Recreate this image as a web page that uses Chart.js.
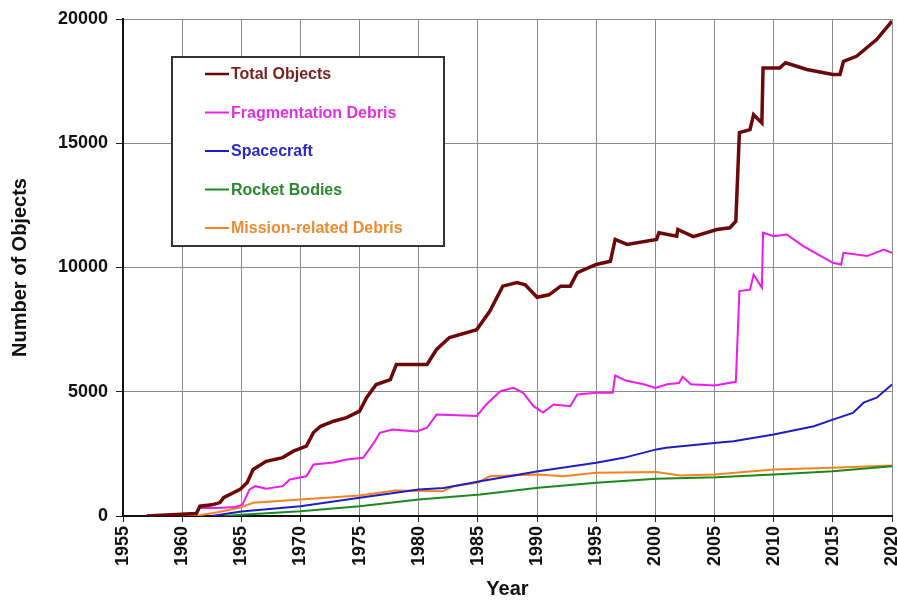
<!DOCTYPE html>
<html>
<head>
<meta charset="utf-8">
<script src="https://cdn.jsdelivr.net/npm/chart.js@4.4.1/dist/chart.umd.min.js"></script>
<style>
  html, body { margin: 0; padding: 0; background: #fff; }
</style>
</head>
<body>
<canvas id="debrisChart" width="897" height="603"></canvas>
<script>
// Series (year, number of objects)
const totalYears = [1957, 1961.2, 1961.5, 1962.5, 1963.2, 1963.5, 1964.9, 1965.5, 1966.0, 1967.1, 1968.5, 1969.4, 1970.5, 1971.1, 1971.7, 1972.8, 1973.9, 1975.0, 1975.6, 1976.4, 1977.6, 1978.1, 1980.7, 1981.5, 1982.6, 1984.9, 1986.0, 1987.1, 1988.3, 1989.0, 1990.0, 1991.0, 1992.0, 1992.8, 1993.4, 1995.0, 1996.2, 1996.6, 1997.6, 2000.1, 2000.3, 2001.8, 2001.9, 2003.2, 2005.2, 2006.3, 2006.8, 2007.1, 2008.0, 2008.3, 2009.0, 2009.1, 2010.5, 2011.0, 2012.8, 2015.0, 2015.6, 2015.9, 2017.0, 2018.7, 2020.0];
const totalCounts = [0, 100, 395, 450, 540, 740, 1070, 1350, 1870, 2200, 2350, 2610, 2810, 3360, 3610, 3815, 3960, 4220, 4770, 5290, 5490, 6100, 6100, 6700, 7180, 7500, 8240, 9250, 9390, 9300, 8800, 8900, 9250, 9250, 9790, 10120, 10250, 11130, 10930, 11130, 11400, 11260, 11530, 11240, 11530, 11600, 11860, 15430, 15550, 16150, 15820, 18030, 18030, 18240, 17970, 17770, 17770, 18300, 18500, 19170, 19910];

const fragYears = [1961.3, 1961.5, 1963.0, 1964.5, 1965.1, 1965.7, 1966.2, 1967.1, 1968.5, 1969.1, 1970.5, 1971.1, 1972.8, 1973.9, 1975.3, 1976.2, 1976.7, 1977.8, 1979.8, 1980.7, 1981.5, 1984.9, 1985.7, 1986.9, 1988.0, 1988.8, 1989.7, 1990.5, 1991.4, 1992.8, 1993.4, 1995.0, 1996.4, 1996.6, 1997.5, 1999.0, 2000.0, 2001.0, 2002.0, 2002.3, 2003.0, 2005.0, 2006.8, 2007.1, 2008.0, 2008.3, 2009.0, 2009.1, 2010.0, 2011.1, 2012.5, 2015.0, 2015.7, 2015.9, 2017.9, 2019.3, 2020.0];
const fragCounts = [250, 330, 320, 360, 460, 1070, 1200, 1100, 1200, 1470, 1600, 2070, 2150, 2270, 2340, 2940, 3350, 3480, 3400, 3550, 4080, 4020, 4490, 5020, 5160, 4970, 4420, 4160, 4490, 4420, 4890, 4960, 4960, 5650, 5450, 5300, 5150, 5300, 5350, 5600, 5300, 5250, 5400, 9050, 9110, 9720, 9190, 11400, 11260, 11330, 10860, 10190, 10120, 10590, 10460, 10720, 10590];

const craftYears = [1962.5, 1965, 1970, 1975, 1980, 1982.1, 1985.2, 1990.1, 1995, 1997.3, 2000.1, 2000.9, 2005.2, 2006.6, 2010, 2013.4, 2015, 2016.7, 2017.6, 2018.7, 2020];
const craftCounts = [0, 180, 395, 730, 1070, 1130, 1400, 1800, 2140, 2340, 2680, 2750, 2950, 3010, 3280, 3610, 3880, 4150, 4560, 4760, 5290];

const rocketYears = [1963.5, 1965, 1970, 1975, 1980, 1985.2, 1990.1, 1995, 2000.1, 2005.2, 2010, 2015, 2020];
const rocketCounts = [0, 50, 190, 395, 660, 865, 1135, 1335, 1500, 1560, 1670, 1800, 2000];

const missionYears = [1957, 1961.5, 1963, 1964, 1965, 1966, 1970, 1975, 1978, 1982, 1983, 1985, 1986, 1990.1, 1992.2, 1995, 2000.1, 2002.1, 2005, 2010, 2015, 2020];
const missionCounts = [0, 30, 150, 250, 355, 530, 660, 825, 1030, 1000, 1200, 1350, 1600, 1670, 1600, 1740, 1770, 1630, 1670, 1870, 1940, 2030];

const seriesLabels = ['Total Objects', 'Fragmentation Debris', 'Spacecraft', 'Rocket Bodies', 'Mission-related Debris'];
const xTickYears = [1955, 1960, 1965, 1970, 1975, 1980, 1985, 1990, 1995, 2000, 2005, 2010, 2015, 2020];
const yTickValues = [0, 5000, 10000, 15000, 20000];

const lineColors = ['#6e0808', '#ee1aee', '#1e1ec8', '#1b8a1b', '#f5841f'];
const textColors = ['#7a1e1e', '#e030e0', '#2a2ac8', '#2a8a2a', '#ef8a2e'];
const lineWidths = [3.5, 2, 2, 2, 2];

function toPoints(xs, ys) {
    return xs.map((x, i) => ({ x: x, y: ys[i] }));
}

const seriesData = [
    toPoints(totalYears, totalCounts),
    toPoints(fragYears, fragCounts),
    toPoints(craftYears, craftCounts),
    toPoints(rocketYears, rocketCounts),
    toPoints(missionYears, missionCounts)
];

const FONT = '"Liberation Sans", Arial, sans-serif';

// Legend box drawn inside the plot, like the original
const legendBox = {
    id: 'legendBox',
    afterDatasetsDraw(chart) {
        const ctx = chart.ctx;
        ctx.save();
        ctx.fillStyle = '#fff';
        ctx.fillRect(172, 57, 272, 189);
        ctx.strokeStyle = '#333';
        ctx.lineWidth = 2;
        ctx.strokeRect(172, 57, 272, 189);
        ctx.font = 'bold 16px ' + FONT;
        ctx.textBaseline = 'middle';
        chart.data.datasets.forEach((ds, i) => {
            const y = 74 + i * 38.5;
            ctx.strokeStyle = ds.borderColor;
            ctx.lineWidth = Math.min(ds.borderWidth, 2.5);
            ctx.beginPath();
            ctx.moveTo(205, y);
            ctx.lineTo(229, y);
            ctx.stroke();
            ctx.fillStyle = textColors[i];
            ctx.fillText(ds.label, 231, y + 1);
        });
        ctx.restore();
    }
};

const ctx = document.getElementById('debrisChart').getContext('2d');
new Chart(ctx, {
    type: 'line',
    data: {
        datasets: seriesLabels.map((label, i) => ({
            label: label,
            data: seriesData[i],
            borderColor: lineColors[i],
            backgroundColor: lineColors[i],
            borderWidth: lineWidths[i],
            pointRadius: 0,
            tension: 0,
            fill: false
        }))
    },
    options: {
        responsive: false,
        animation: false,
        layout: { padding: { top: 19, right: 5, left: 0, bottom: 0 } },
        plugins: {
            legend: { display: false },
            tooltip: { enabled: false }
        },
        scales: {
            x: {
                type: 'linear',
                min: 1955,
                max: 2020,
                afterBuildTicks: (scale) => { scale.ticks = xTickYears.map(v => ({ value: v })); },
                afterFit: (scale) => {
                    scale.height = 87;
                    scale.paddingLeft = 0;
                    scale.paddingRight = 0;
                },
                ticks: {
                    minRotation: 90,
                    maxRotation: 90,
                    padding: 4,
                    color: '#111',
                    font: { family: FONT, size: 18, weight: 'bold' },
                    callback: (v) => String(v)
                },
                grid: { color: '#8a8a8a', lineWidth: 1, tickLength: 6, tickColor: '#222' },
                border: { color: '#111', width: 2 },
                title: {
                    display: true,
                    text: 'Year',
                    color: '#111',
                    font: { family: FONT, size: 20, weight: 'bold' },
                    padding: { top: 0, bottom: 2 }
                }
            },
            y: {
                min: 0,
                max: 20000,
                afterBuildTicks: (scale) => { scale.ticks = yTickValues.map(v => ({ value: v })); },
                afterFit: (scale) => {
                    scale.width = 123;
                    scale.paddingTop = 0;
                    scale.paddingBottom = 0;
                },
                ticks: {
                    padding: 8,
                    color: '#111',
                    font: { family: FONT, size: 18, weight: 'bold' },
                    callback: (v) => String(v)
                },
                grid: { color: '#8a8a8a', lineWidth: 1, tickLength: 7, tickColor: '#222' },
                border: { color: '#111', width: 2 },
                title: {
                    display: true,
                    text: 'Number of Objects',
                    color: '#111',
                    font: { family: FONT, size: 20, weight: 'bold' },
                    padding: { top: 8, bottom: 0 }
                }
            }
        }
    },
    plugins: [legendBox]
});
</script>
</body>
</html>
